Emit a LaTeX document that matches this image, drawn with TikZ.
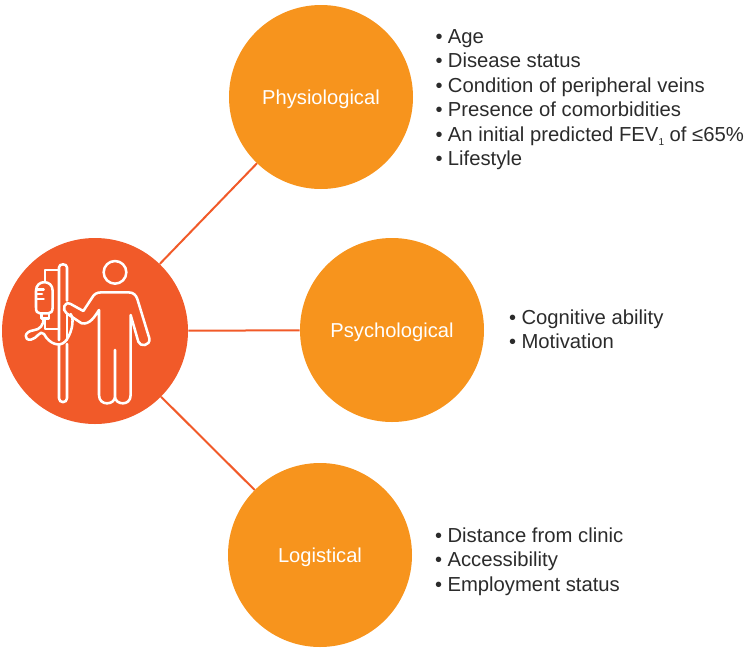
\documentclass[tikz,border=0pt]{standalone}
\usepackage{fontspec}
\setmainfont{Liberation Sans}
\usetikzlibrary{positioning}
\definecolor{hubred}{HTML}{F15A29}
\definecolor{bubbleorange}{HTML}{F7941D}
\definecolor{listgray}{HTML}{2B2B2B}
\newcommand{\bitem}[1]{{\fontsize{15}{15}\selectfont\textbullet}\hspace{4pt}#1}
\tikzset{
  bubble/.style={circle, fill=bubbleorange, minimum size=138pt, inner sep=0pt, text=white, text height=10.5pt, text depth=0pt, font=\fontsize{15.1}{17}\selectfont},
  hubnode/.style={circle, fill=hubred, minimum size=139.5pt, inner sep=0pt},
  spoke/.style={draw=hubred, line width=1.5pt},
  listtext/.style={align=left, inner sep=0pt, text=listgray, font=\fontsize{15.2}{18.3}\selectfont},
  iconline/.style={draw=white, line width=1.9pt, line join=round, line cap=round}
}
\begin{document}
\begin{tikzpicture}[x=0.75pt, y=-0.75pt]
  \useasboundingbox (0,0) rectangle (750,654);
  % Zentrale Person und die drei Kreise
  \node[hubnode] (hub) at (95,331) {};
  \node[bubble] (physio) at (321,97) {Physiological};
  \node[bubble] (psycho) at (392,330) {Psychological};
  \node[bubble] (logist) at (320,555) {Logistical};
  \draw[spoke] (hub) -- (physio);
  \draw[spoke] (hub) -- (psycho);
  \draw[spoke] (hub) -- (logist);

  % Listen rechts neben den Kreisen
  \node[listtext, right=16.5pt of physio, yshift=-2pt] (physiolist) {\bitem{Age}\\ \bitem{Disease status}\\ \bitem{Condition of peripheral veins}\\ \bitem{Presence of comorbidities}\\ \bitem{An initial predicted FEV\raisebox{-3pt}{\fontsize{7.5}{8}\selectfont 1} of ≤65\%}\\ \bitem{Lifestyle}};
  \node[listtext, right=18.5pt of psycho, yshift=0.75pt] (psycholist) {\bitem{Cognitive ability}\\ \bitem{Motivation}};
  \node[listtext, right=17pt of logist, yshift=-5pt] (logistlist) {\bitem{Distance from clinic}\\ \bitem{Accessibility}\\ \bitem{Employment status}};

  % Symbol: Person mit Infusionsstaender
  \begin{scope}[shift={(0,230)}, x=0.25pt, y=-0.25pt]
    \node[iconline, circle, draw, minimum size=17pt, inner sep=0pt] (head) at (345,127) {};
    % Koerper
    \draw[iconline] (345,360) -- (345,500) .. controls (345,525) and (297,530) .. (297,495) -- (297,240)
      .. controls (285,258) and (270,285) .. (245,280) -- (200,250) .. controls (185,240) and (192,212) .. (212,222)
      -- (250,243) -- (275,205) .. controls (282,192) and (290,187) .. (305,187) -- (385,187)
      .. controls (400,187) and (408,195) .. (412,207) -- (448,325) .. controls (452,348) and (420,352) .. (415,335)
      -- (392,255) -- (392,495) .. controls (392,530) and (345,525) .. (345,500);
    % Staender
    \draw[iconline] (177,330) -- (177,112) .. controls (177,100) and (201,100) .. (201,112) -- (201,212);
    \draw[iconline] (201,255) -- (201,330);
    \draw[iconline] (177,345) -- (177,505) .. controls (177,520) and (201,520) .. (201,505) -- (201,342);
    \draw[iconline] (177,120) -- (135,120) -- (135,155);
    \draw[iconline] (135,265) -- (135,297) -- (177,297);
    % Beutel
    \draw[iconline] (108,182) .. controls (108,148) and (158,148) .. (158,182) -- (158,232)
      .. controls (158,245) and (152,250) .. (145,250) -- (120,250) .. controls (112,250) and (108,245) .. (108,232) -- cycle;
    \draw[iconline] (110,178) -- (131,178) (110,192) -- (126,192) (110,207) -- (131,207);
    \draw[iconline] (125,250) -- (125,265) -- (147,265) -- (147,250);
    % Schlauch
    \draw[iconline] (131,265) .. controls (131,285) and (120,299) .. (100,301) .. controls (72,304) and (70,332) .. (93,329)
      .. controls (112,326) and (120,298) .. (132,312) .. controls (148,342) and (178,352) .. (195,335)
      .. controls (212,318) and (226,270) .. (212,252);
  \end{scope}
\end{tikzpicture}
\end{document}
